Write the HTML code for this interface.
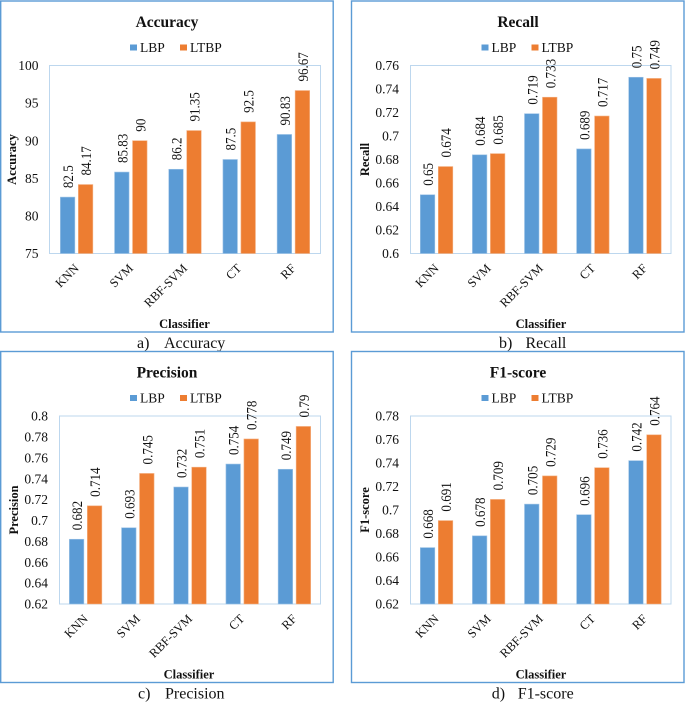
<!DOCTYPE html>
<html lang="en">
<head>
<meta charset="utf-8">
<title>Classifier comparison charts</title>
<style>
html,body{margin:0;padding:0;background:#fff;}
svg{display:block;font-family:"Liberation Serif",serif;fill:#111;filter:blur(0.35px);}
</style>
</head>
<body>
<svg id="figure" width="685" height="702" viewBox="0 0 685 702" xmlns="http://www.w3.org/2000/svg"></svg>
<script>
const categories = ['KNN', 'SVM', 'RBF-SVM', 'CT', 'RF'];
const seriesNames = ['LBP', 'LTBP'];

const accuracyLbp = [82.5, 85.83, 86.2, 87.5, 90.83];
const accuracyLtbp = [84.17, 90, 91.35, 92.5, 96.67];
const accuracyTicks = ['75', '80', '85', '90', '95', '100'];

const recallLbp = [0.65, 0.684, 0.719, 0.689, 0.75];
const recallLtbp = [0.674, 0.685, 0.733, 0.717, 0.749];
const recallTicks = ['0.6', '0.62', '0.64', '0.66', '0.68', '0.7', '0.72', '0.74', '0.76'];

const precisionLbp = [0.682, 0.693, 0.732, 0.754, 0.749];
const precisionLtbp = [0.714, 0.745, 0.751, 0.778, 0.79];
const precisionTicks = ['0.62', '0.64', '0.66', '0.68', '0.7', '0.72', '0.74', '0.76', '0.78', '0.8'];

const f1Lbp = [0.668, 0.678, 0.705, 0.696, 0.742];
const f1Ltbp = [0.691, 0.709, 0.729, 0.736, 0.764];
const f1Ticks = ['0.62', '0.64', '0.66', '0.68', '0.7', '0.72', '0.74', '0.76', '0.78'];

const NS = 'http://www.w3.org/2000/svg';
const figure = document.getElementById('figure');
const BLUE = '#5b9bd5';
const ORANGE = '#ed7d31';

function add(parent, tag, attrs, text) {
  const el = document.createElementNS(NS, tag);
  for (const k in attrs) el.setAttribute(k, attrs[k]);
  if (text !== undefined) el.textContent = text;
  parent.appendChild(el);
  return el;
}

function drawPanel(cfg) {
  const g = add(figure, 'g', {});
  
  

  const frame = add(g, 'rect', { x: cfg.fx, y: cfg.fy, width: 332.5, height: 331, fill: '#fff', stroke: BLUE, 'stroke-width': 1.4 });
  
  

  const plot = add(g, 'rect', { x: cfg.px, y: cfg.py, width: cfg.pr - cfg.px, height: cfg.pb - cfg.py, fill: 'none', stroke: '#bdd7ee', 'stroke-width': 1 });
  
  

  const yMin = parseFloat(cfg.ticks[0]);
  const yMax = parseFloat(cfg.ticks[cfg.ticks.length - 1]);
  const yScale = v => cfg.pb - (v - yMin) / (yMax - yMin) * (cfg.pb - cfg.py);
  const band = (cfg.pr - cfg.px) / categories.length;
  const xCenter = i => cfg.px + band * (i + 0.5);

  cfg.ticks.forEach(t => {
    const el = add(g, 'text', { x: cfg.tickX, y: yScale(parseFloat(t)) + 4.6, 'text-anchor': 'end', 'font-size': 13.5 }, t);
    
    
  });

  const barW = 14.5;
  const gap = 3.5;
  [cfg.lbp, cfg.ltbp].forEach((vals, s) => {
    vals.forEach((v, i) => {
      const x = xCenter(i) + (s === 0 ? -(barW + gap / 2) : gap / 2);
      const y = yScale(v);
      const bar = add(g, 'rect', { x: x, y: y, width: barW, height: cfg.pb - y, fill: s === 0 ? BLUE : ORANGE, stroke: s === 0 ? '#9dc3e6' : '#f4b183', 'stroke-width': 0.6 });
      
      

      const lx = x + barW / 2 + 5.5;
      const ly = y - 9;
      const label = add(g, 'text', { x: 0, y: 0, transform: 'translate(' + lx + ' ' + ly + ') rotate(-90) scale(0.9 1)', 'font-size': 14.5 }, String(v));
      
      
    });
  });

  categories.forEach((c, i) => {
    const cx = xCenter(i) + 3;
    const cy = cfg.pb + 15.5;
    const el = add(g, 'text', { x: cx, y: cy, transform: 'rotate(-45 ' + cx + ' ' + cy + ')', 'text-anchor': 'end', 'font-size': 12.5 }, c);
    
    
  });

  const title = add(g, 'text', { x: cfg.titleX, y: cfg.fy + 26, 'text-anchor': 'middle', 'font-size': 15.5, 'font-weight': 'bold' }, cfg.title);
  
  

  const legendY = cfg.fy + 43.5;
  seriesNames.forEach((n, s) => {
    const sx = cfg.legendX + s * 50;
    const sw = add(g, 'rect', { x: sx, y: legendY, width: 7, height: 6, fill: s === 0 ? BLUE : ORANGE });
    
    
    const lt = add(g, 'text', { x: sx + 10, y: legendY + 7.5, 'font-size': 13.5 }, n);
    
    
  });

  const yt = add(g, 'text', { x: cfg.yTitleX, y: (cfg.py + cfg.pb) / 2, transform: 'rotate(-90 ' + cfg.yTitleX + ' ' + ((cfg.py + cfg.pb) / 2) + ')', 'text-anchor': 'middle', 'font-size': 12.5, 'font-weight': 'bold' }, cfg.title);
  
  

  const xt = add(g, 'text', { x: cfg.xTitleX, y: cfg.fy + 327, 'text-anchor': 'middle', 'font-size': 12.5, 'font-weight': 'bold' }, 'Classifier');
  
  

  const capMark = add(g, 'text', { x: cfg.capX, y: cfg.fy + 347, 'font-size': 16 }, cfg.marker);
  
  
  const cap = add(g, 'text', { x: cfg.capTextX, y: cfg.fy + 347, 'font-size': 16 }, cfg.title);
  
  
}

drawPanel({ key: 'accuracy', title: 'Accuracy', marker: 'a)', lbp: accuracyLbp, ltbp: accuracyLtbp, ticks: accuracyTicks,
  fx: 0.7, fy: 1, px: 49.5, pr: 320.5, py: 65.5, pb: 253.5, tickX: 38.5, titleX: 167, legendX: 130, yTitleX: 16, xTitleX: 184.5, capX: 137, capTextX: 164 });
drawPanel({ key: 'recall', title: 'Recall', marker: 'b)', lbp: recallLbp, ltbp: recallLtbp, ticks: recallTicks,
  fx: 351.5, fy: 1, px: 410.5, pr: 671, py: 65.5, pb: 253.5, tickX: 399, titleX: 518, legendX: 481.5, yTitleX: 369, xTitleX: 541, capX: 499, capTextX: 525.5 });
drawPanel({ key: 'precision', title: 'Precision', marker: 'c)', lbp: precisionLbp, ltbp: precisionLtbp, ticks: precisionTicks,
  fx: 0.7, fy: 351.5, px: 59.5, pr: 320.5, py: 416, pb: 604, tickX: 48, titleX: 167, legendX: 130, yTitleX: 18, xTitleX: 189, capX: 138, capTextX: 165 });
drawPanel({ key: 'f1-score', title: 'F1-score', marker: 'd)', lbp: f1Lbp, ltbp: f1Ltbp, ticks: f1Ticks,
  fx: 351.5, fy: 351.5, px: 410.5, pr: 671, py: 416, pb: 604, tickX: 399, titleX: 518, legendX: 481.5, yTitleX: 369, xTitleX: 541, capX: 491.7, capTextX: 517.7 });
</script>
</body>
</html>
